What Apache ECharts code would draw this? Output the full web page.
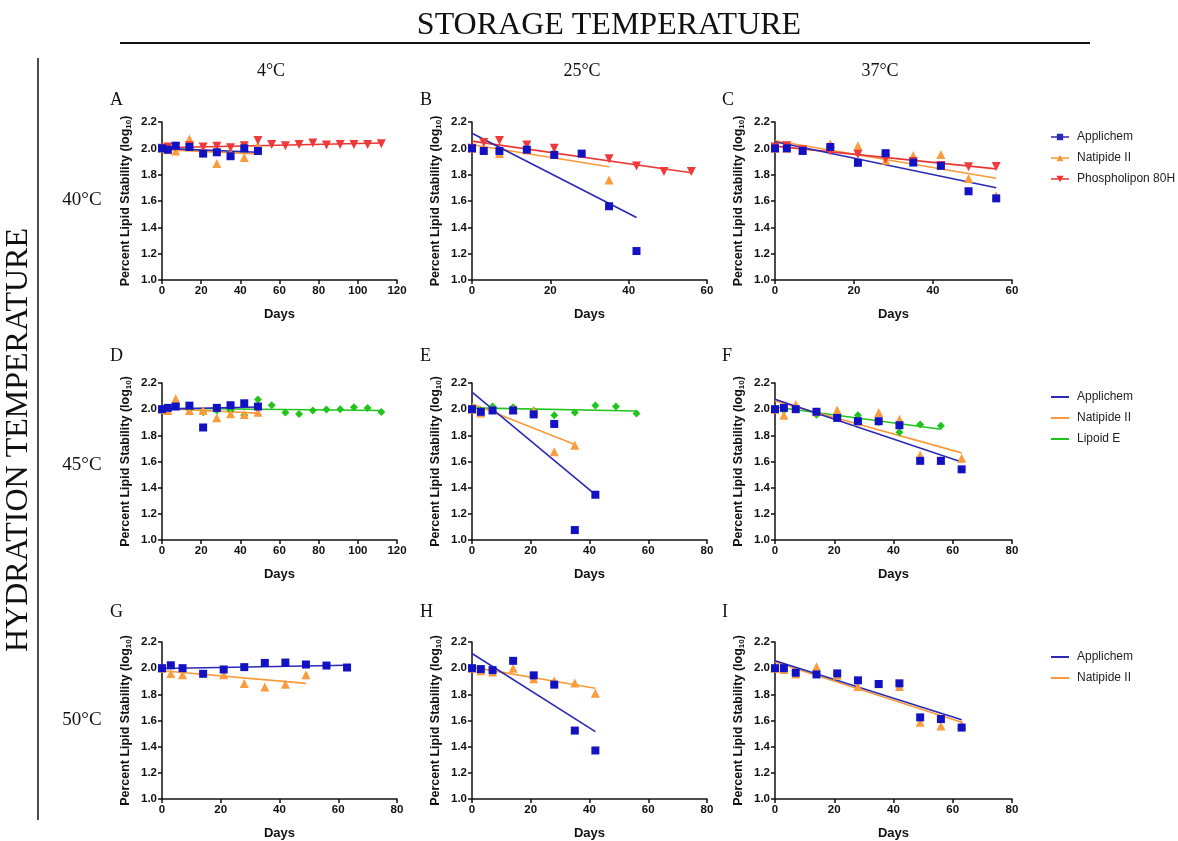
<!DOCTYPE html>
<html>
<head>
<meta charset="UTF-8">
<title>Lipid stability</title>
<script src="https://cdn.jsdelivr.net/npm/echarts@6/dist/echarts.min.js"></script>
<style>
  html, body { margin: 0; padding: 0; background: #fff; }
  #main { width: 1178px; height: 841px; }
</style>
</head>
<body>
<div id="main"></div>
<script>
// ---- data: [day, log10 % lipid stability] ----
var A_app = [[0,2.00],[3,1.99],[7,2.02],[14,2.01],[21,1.96],[28,1.97],[35,1.94],[42,2.00],[49,1.98]];
var A_nat = [[0,2.00],[3,1.99],[7,1.98],[14,2.07],[21,1.99],[28,1.885],[35,1.96],[42,1.93],[49,2.02]];
var A_pho = [[0,2.00],[3,2.01],[7,2.01],[14,2.02],[21,2.01],[28,2.015],[35,2.005],[42,2.02],[49,2.06],[56,2.03],[63,2.02],[70,2.03],[77,2.04],[84,2.025],[91,2.03],[98,2.03],[105,2.03],[112,2.035]];
var A_app_fit = [[0,2.00],[49,1.97]];
var A_nat_fit = [[0,1.99],[49,1.958]];
var A_pho_fit = [[0,2.005],[112,2.04]];

var B_app = [[0,2.00],[3,1.98],[7,1.98],[14,1.99],[21,1.95],[28,1.96],[35,1.56],[42,1.22]];
var B_nat = [[0,2.00],[3,2.00],[7,1.96],[14,1.99],[21,1.98],[35,1.76]];
var B_pho = [[0,2.00],[3,2.045],[7,2.06],[14,2.025],[21,2.00],[35,1.92],[42,1.865],[49,1.825],[56,1.825]];
var B_app_fit = [[0,2.114],[42,1.475]];
var B_nat_fit = [[0,2.027],[35,1.86]];
var B_pho_fit = [[0,2.055],[56,1.815]];

var C_app = [[0,2.00],[3,2.00],[7,1.98],[14,2.01],[21,1.89],[28,1.963],[35,1.892],[42,1.867],[49,1.674],[56,1.62]];
var C_nat = [[0,2.00],[3,2.00],[7,1.99],[14,2.035],[21,2.02],[28,1.91],[35,1.945],[42,1.953],[49,1.77],[56,1.64]];
var C_pho = [[0,2.01],[3,2.02],[7,1.99],[14,1.98],[21,1.956],[28,1.92],[35,1.90],[42,1.87],[49,1.86],[56,1.862]];
var C_app_fit = [[0,2.05],[56,1.70]];
var C_nat_fit = [[0,2.058],[56,1.773]];
var C_pho_fit = [[0,2.017],[56,1.844]];

var D_app = [[0,2.00],[3,2.01],[7,2.02],[14,2.027],[21,1.86],[28,2.01],[35,2.03],[42,2.045],[49,2.02]];
var D_nat = [[0,2.00],[3,1.99],[7,2.08],[14,1.99],[21,1.99],[28,1.935],[35,1.965],[42,1.96],[49,1.977]];
var D_lip = [[0,2.00],[3,2.00],[7,2.04],[14,2.00],[21,1.977],[28,1.99],[35,1.99],[42,1.953],[49,2.073],[56,2.03],[63,1.974],[70,1.963],[77,1.99],[84,1.998],[91,2.00],[98,2.014],[105,2.008],[112,1.978]];
var D_app_fit = [[0,2.00],[49,2.017]];
var D_nat_fit = [[0,2.005],[49,1.97]];
var D_lip_fit = [[0,2.007],[112,1.99]];

var E_app = [[0,2.00],[3,1.98],[7,1.99],[14,1.99],[21,1.96],[28,1.887],[35,1.076],[42,1.346]];
var E_nat = [[0,2.00],[3,1.97],[7,2.00],[14,2.00],[21,1.99],[28,1.674],[35,1.725]];
var E_lip = [[0,2.00],[3,1.99],[7,2.02],[14,2.015],[21,1.99],[28,1.953],[35,1.974],[42,2.028],[49,2.02],[56,1.966]];
var E_app_fit = [[0,2.131],[42,1.346]];
var E_nat_fit = [[0,2.042],[35,1.73]];
var E_lip_fit = [[0,2.01],[56,1.986]];

var F_app = [[0,2.00],[3,2.01],[7,2.00],[14,1.98],[21,1.933],[28,1.908],[35,1.908],[42,1.877],[49,1.605],[56,1.605],[63,1.54]];
var F_nat = [[0,2.00],[3,1.953],[7,2.035],[14,1.98],[21,1.994],[28,1.91],[35,1.974],[42,1.923],[49,1.65],[56,1.61],[63,1.625]];
var F_lip = [[0,2.00],[3,1.99],[7,2.00],[14,1.958],[21,1.95],[28,1.953],[35,1.90],[42,1.824],[49,1.882],[56,1.874]];
var F_app_fit = [[0,2.075],[63,1.597]];
var F_nat_fit = [[0,2.063],[63,1.666]];
var F_lip_fit = [[0,2.017],[56,1.847]];

var G_app = [[0,2.00],[3,2.022],[7,2.00],[14,1.957],[21,1.99],[28,2.008],[35,2.04],[42,2.043],[49,2.028],[56,2.02],[63,2.005]];
var G_nat = [[0,2.00],[3,1.96],[7,1.95],[21,1.95],[28,1.882],[35,1.856],[42,1.877],[49,1.95]];
var G_app_fit = [[0,1.998],[63,2.022]];
var G_nat_fit = [[0,1.98],[49,1.884]];

var H_app = [[0,2.00],[3,1.993],[7,1.985],[14,2.056],[21,1.945],[28,1.874],[35,1.523],[42,1.371]];
var H_nat = [[0,2.00],[3,1.98],[7,1.97],[14,2.00],[21,1.92],[28,1.904],[35,1.887],[42,1.808]];
var H_app_fit = [[0,2.112],[42,1.515]];
var H_nat_fit = [[0,2.008],[42,1.846]];

var I_app = [[0,2.00],[3,2.00],[7,1.965],[14,1.952],[21,1.96],[28,1.907],[35,1.879],[42,1.884],[49,1.624],[56,1.611],[63,1.546]];
var I_nat = [[0,2.00],[3,1.99],[7,1.955],[14,2.01],[21,1.945],[28,1.859],[35,1.88],[42,1.86],[49,1.586],[56,1.558],[63,1.57]];
var I_app_fit = [[0,2.056],[63,1.606]];
var I_nat_fit = [[0,2.048],[63,1.586]];

var xMax = [120, 60, 60, 120, 80, 80, 80, 80, 80];
var panelLetters = ['A','B','C','D','E','F','G','H','I'];
var colTitles = ['4°C', '25°C', '37°C'];
var rowTitles = ['40°C', '45°C', '50°C'];

// ---- look ----
var sans = 'Liberation Sans, Arial, sans-serif';
var serif = 'Liberation Serif, Times New Roman, serif';
var ink = '#111';

var look = {
  'Applichem':        { color: '#1212c2', line: '#2a2ab6', symbol: 'rect', size: 8, rotate: 0 },
  'Natipide II':      { color: '#fb9c3e', line: '#f99a3a', symbol: 'triangle', size: 9, rotate: 0 },
  'Phospholipon 80H': { color: '#ee3a3a', line: '#ea3535', symbol: 'triangle', size: 9, rotate: 180 },
  'Lipoid E':         { color: '#20c41c', line: '#20c41c', symbol: 'diamond', size: 8, rotate: 0 }
};

var panels = [
  [['Natipide II', A_nat, A_nat_fit], ['Phospholipon 80H', A_pho, A_pho_fit], ['Applichem', A_app, A_app_fit]],
  [['Natipide II', B_nat, B_nat_fit], ['Phospholipon 80H', B_pho, B_pho_fit], ['Applichem', B_app, B_app_fit]],
  [['Natipide II', C_nat, C_nat_fit], ['Phospholipon 80H', C_pho, C_pho_fit], ['Applichem', C_app, C_app_fit]],
  [['Lipoid E', D_lip, D_lip_fit], ['Natipide II', D_nat, D_nat_fit], ['Applichem', D_app, D_app_fit]],
  [['Lipoid E', E_lip, E_lip_fit], ['Natipide II', E_nat, E_nat_fit], ['Applichem', E_app, E_app_fit]],
  [['Lipoid E', F_lip, F_lip_fit], ['Natipide II', F_nat, F_nat_fit], ['Applichem', F_app, F_app_fit]],
  [['Natipide II', G_nat, G_nat_fit], ['Applichem', G_app, G_app_fit]],
  [['Natipide II', H_nat, H_nat_fit], ['Applichem', H_app, H_app_fit]],
  [['Natipide II', I_nat, I_nat_fit], ['Applichem', I_app, I_app_fit]]
];

var colLeft = [162, 472, 775];
var colWidth = [235, 235, 237];
var rowTop = [122, 383, 642];
var rowHeight = [158, 157, 159];

var grid = [], xAxis = [], yAxis = [], series = [], graphic = [];

for (var i = 0; i < 9; i++) {
  var r = Math.floor(i / 3), c = i % 3;
  grid.push({ left: colLeft[c], top: rowTop[r], width: colWidth[c], height: rowHeight[r] });
  xAxis.push({
    type: 'value', gridIndex: i, min: 0, max: xMax[i], interval: 20,
    name: 'Days', nameLocation: 'middle', nameGap: 28,
    nameTextStyle: { fontFamily: sans, fontWeight: 'bold', fontSize: 13, color: ink },
    axisLine: { onZero: false, lineStyle: { color: ink, width: 1.5 } },
    axisTick: { length: 4, lineStyle: { color: ink, width: 1.5 } },
    axisLabel: { fontFamily: sans, fontWeight: 'bold', fontSize: 11.5, color: ink, margin: 5 },
    splitLine: { show: false }
  });
  yAxis.push({
    type: 'value', gridIndex: i, min: 1.0, max: 2.2, interval: 0.2,
    name: 'Percent Lipid Stability (log{sub|10})', nameLocation: 'middle', nameGap: 29, nameRotate: 90,
    nameTextStyle: {
      fontFamily: sans, fontWeight: 'bold', fontSize: 12.5, color: ink, lineHeight: 15,
      rich: { sub: { fontFamily: sans, fontWeight: 'bold', fontSize: 8, color: ink, lineHeight: 10, verticalAlign: 'bottom' } }
    },
    axisLine: { onZero: false, lineStyle: { color: ink, width: 1.5 } },
    axisTick: { length: 4, lineStyle: { color: ink, width: 1.5 } },
    axisLabel: { fontFamily: sans, fontWeight: 'bold', fontSize: 11.5, color: ink, margin: 5,
      formatter: function (v) { return v.toFixed(1); } },
    splitLine: { show: false }
  });

  panels[i].forEach(function (s) {
    var lk = look[s[0]];
    series.push({
      name: s[0], type: 'line', xAxisIndex: i, yAxisIndex: i, data: s[2],
      showSymbol: false, symbol: 'none', silent: true, z: 2,
      lineStyle: { color: lk.line, width: 1.6 }, itemStyle: { color: lk.line }
    });
  });
  panels[i].forEach(function (s) {
    var lk = look[s[0]];
    series.push({
      name: s[0], type: 'scatter', xAxisIndex: i, yAxisIndex: i, data: s[1],
      symbol: lk.symbol, symbolSize: lk.size, symbolRotate: lk.rotate, z: 3,
      itemStyle: { color: lk.color, opacity: 1 }
    });
  });

  graphic.push({ type: 'text', left: [110, 420, 722][c], top: [91, 347, 603][r],
    style: { text: panelLetters[i], font: '18px ' + serif, fill: ink } });
}

// headers and frame
graphic.push({ type: 'text', x: 609, y: 26,
  style: { text: 'STORAGE TEMPERATURE', font: '32px ' + serif, fill: ink, align: 'center', verticalAlign: 'middle' } });
graphic.push({ type: 'line', shape: { x1: 120, y1: 43, x2: 1090, y2: 43 }, style: { stroke: ink, lineWidth: 2 } });
graphic.push({ type: 'line', shape: { x1: 38, y1: 58, x2: 38, y2: 820 }, style: { stroke: ink, lineWidth: 1.5 } });
graphic.push({ type: 'text', x: 19, y: 440, rotation: Math.PI / 2,
  style: { text: 'HYDRATION TEMPERATURE', font: '32px ' + serif, fill: ink, align: 'center', verticalAlign: 'middle' } });
[271, 582, 880].forEach(function (x, k) {
  graphic.push({ type: 'text', x: x, y: 71,
    style: { text: colTitles[k], font: '18px ' + serif, fill: ink, align: 'center', verticalAlign: 'middle' } });
});
[200, 465, 720].forEach(function (y, k) {
  graphic.push({ type: 'text', x: 82, y: y,
    style: { text: rowTitles[k], font: '19px ' + serif, fill: ink, align: 'center', verticalAlign: 'middle' } });
});

var bar = 'M0,4.25H20V5.75H0Z ';
var legendText = { fontFamily: sans, fontSize: 12, color: '#222', padding: [0, 0, 0, 3] };
var legend = [
  { left: 1046, top: 126, orient: 'vertical', itemGap: 9, itemWidth: 18, itemHeight: 7,
    selectedMode: false, textStyle: legendText,
    data: [
      { name: 'Applichem', icon: 'path://' + bar + 'M6.5,1.5H13.5V8.5H6.5Z' },
      { name: 'Natipide II', icon: 'path://' + bar + 'M10,1.5L14,8.5H6Z' },
      { name: 'Phospholipon 80H', icon: 'path://' + bar + 'M6,1.5H14L10,8.5Z' }
    ] },
  { left: 1046, top: 386, orient: 'vertical', itemGap: 9, itemWidth: 18, itemHeight: 2,
    selectedMode: false, textStyle: legendText, icon: 'rect',
    data: ['Applichem', 'Natipide II', 'Lipoid E'] },
  { left: 1046, top: 646, orient: 'vertical', itemGap: 9, itemWidth: 18, itemHeight: 2,
    selectedMode: false, textStyle: legendText, icon: 'rect',
    data: ['Applichem', 'Natipide II'] }
];

var myChart = echarts.init(document.getElementById('main'), null, { renderer: 'canvas' });
myChart.setOption({
  backgroundColor: '#fff',
  animation: false,
  grid: grid,
  xAxis: xAxis,
  yAxis: yAxis,
  legend: legend,
  graphic: graphic,
  series: series
});
</script>
</body>
</html>
